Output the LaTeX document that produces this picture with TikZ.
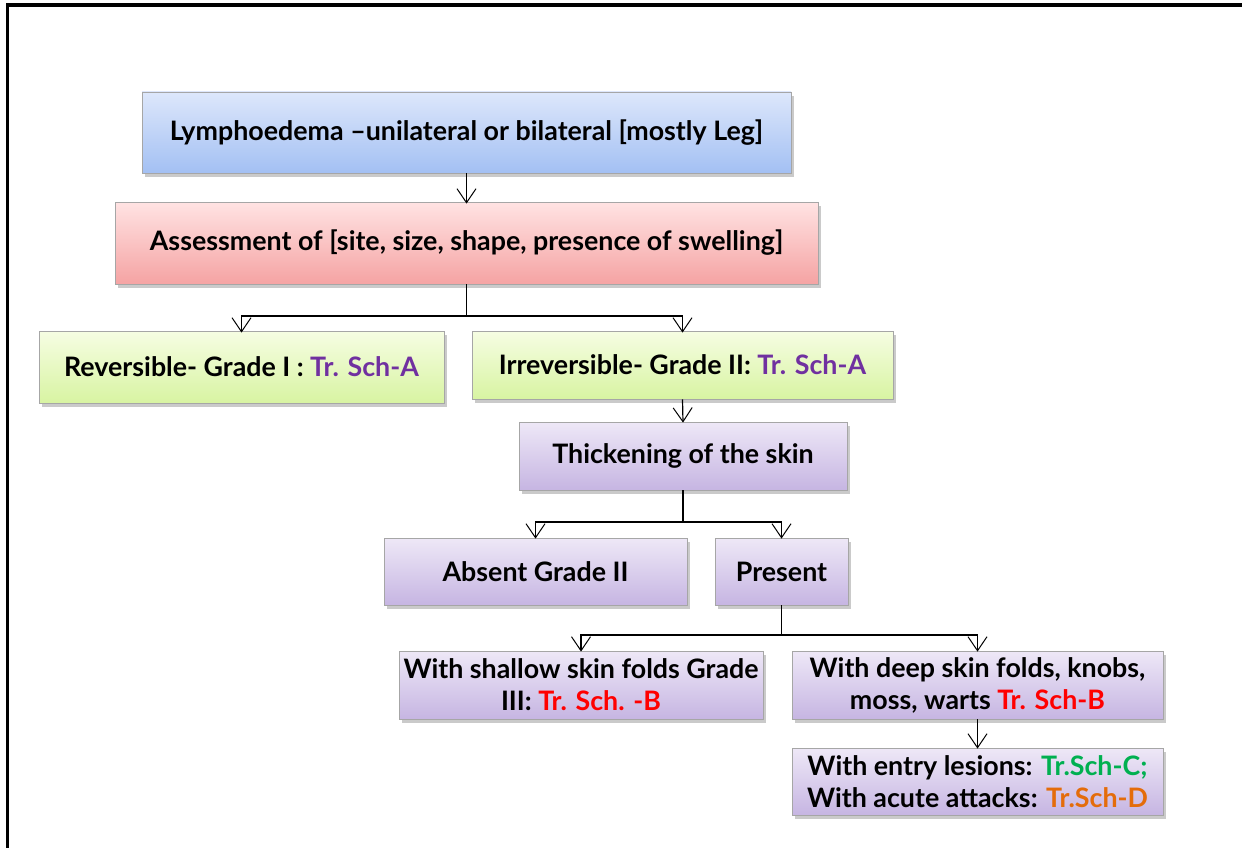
\documentclass[tikz,border=0pt]{standalone}
\usepackage{fontspec}
\setmainfont{Lato}
\usetikzlibrary{arrows.meta,shadows}
\definecolor{tpurple}{HTML}{7030A0}
\definecolor{tred}{HTML}{FF0000}
\definecolor{tgreen}{HTML}{00B050}
\definecolor{torange}{HTML}{E46C0A}
\definecolor{bluetop}{HTML}{DDE7FB}
\definecolor{bluebot}{HTML}{A3C0F3}
\definecolor{pinktop}{HTML}{FFE3E3}
\definecolor{pinkbot}{HTML}{F5A3A3}
\definecolor{greentop}{HTML}{F6FDE3}
\definecolor{greenbot}{HTML}{D8F4A2}
\definecolor{lavtop}{HTML}{EEE8F7}
\definecolor{lavbot}{HTML}{C6B5E2}
\tikzset{
  box/.style={draw=black!35, line width=0.8pt, align=center, inner sep=2pt,
    font=\fontsize{26.8}{32}\selectfont\bfseries,
    drop shadow={shadow xshift=3pt, shadow yshift=-4pt, opacity=0.35, fill=black!60}},
  bluebox/.style={box, top color=bluetop, bottom color=bluebot},
  pinkbox/.style={box, top color=pinktop, bottom color=pinkbot},
  greenbox/.style={box, top color=greentop, bottom color=greenbot},
  lavbox/.style={box, top color=lavtop, bottom color=lavbot},
  conn/.style={draw=black, line width=1.2pt, -{Straight Barb[length=14pt,width=19pt,line width=1pt]}},
  seg/.style={draw=black, line width=1.2pt}
}
\begin{document}
\begin{tikzpicture}[x=1pt,y=-1pt]
\useasboundingbox (0,0) rectangle (1242,848);
\draw[line width=3.5pt, line cap=rect] (1250,5) -- (7.5,5) -- (7.5,860);

\node[bluebox, minimum width=649pt, minimum height=81pt] (lymph) at (466.5,132.5)
  {Lymphoedema –unilateral or bilateral [mostly Leg]};
\node[pinkbox, minimum width=703pt, minimum height=82pt] (assess) at (466.5,243)
  {Assessment of [site, size, shape, presence of swelling]};
\node[greenbox, minimum width=405pt, minimum height=72pt] (rev) at (241.5,367)
  {Reversible- Grade I : \textcolor{tpurple}{Tr. Sch-A}};
\node[greenbox, minimum width=421pt, minimum height=68pt] (irr) at (682.5,365)
  {Irreversible- Grade II: \textcolor{tpurple}{Tr. Sch-A}};
\node[lavbox, minimum width=328pt, minimum height=68pt] (thick) at (683,456)
  {Thickening of the skin};
\node[lavbox, minimum width=303pt, minimum height=67pt] (absent) at (535.5,571.5)
  {Absent Grade II};
\node[lavbox, minimum width=133pt, minimum height=67pt] (present) at (781.5,571.5)
  {Present};
\node[lavbox, minimum width=364pt, minimum height=68pt] (shallow) at (581,685)
  {With shallow skin folds Grade\\III: \textcolor{tred}{Tr. Sch. -B}};
\node[lavbox, minimum width=371pt, minimum height=68pt] (deep) at (977.5,685)
  {With deep skin folds, knobs,\\moss, warts \textcolor{tred}{Tr. Sch-B}};
\node[lavbox, minimum width=371pt, minimum height=67pt] (entry) at (977.5,781.5)
  {With entry lesions: \textcolor{tgreen}{Tr.Sch-C;}\\With acute attacks: \textcolor{torange}{Tr.Sch-D}};

\coordinate (s1) at (466.5,316);
\coordinate (s2) at (683,522);
\coordinate (s3) at (781.5,635);

\draw[conn] (lymph.south) -- ([yshift=-2pt]assess.north);
\draw[seg] (assess.south) -- (s1);
\draw[conn] (s1) -| ([yshift=-2pt]rev.north);
\draw[conn] (s1) -| ([yshift=-2pt]irr.north);
\draw[conn] (irr.south) -- ([yshift=-1pt]thick.north);
\draw[seg] (thick.south) -- (s2);
\draw[conn] (s2) -| ([yshift=-1pt]absent.north);
\draw[conn] (s2) -| ([yshift=-1pt]present.north);
\draw[seg] (present.south) -- (s3);
\draw[conn] (s3) -| ([yshift=-1pt]shallow.north);
\draw[conn] (s3) -| ([yshift=-1pt]deep.north);
\draw[conn] (deep.south) -- ([yshift=-1pt]entry.north);
\end{tikzpicture}
\end{document}
